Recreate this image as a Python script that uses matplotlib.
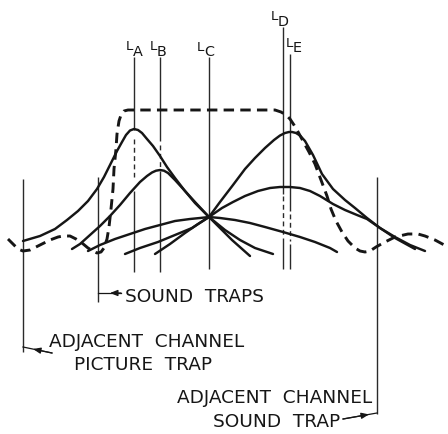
import matplotlib
matplotlib.use("Agg")
import matplotlib.pyplot as plt

# ---------------- data (pixel units: x right, y down) -------------
# resonance curve of coil L_A (tall, left)
curve_a_x = [23, 40, 55, 67, 78, 88, 97, 104, 110, 117, 122, 126, 130, 134, 138, 142, 147, 153, 160, 167, 175, 185, 195, 209, 220, 232, 250]
curve_a_y = [242, 237, 230, 221, 212, 202, 190, 178, 166, 152, 143, 136, 131.5, 130, 131, 134, 140, 147, 157, 168, 179, 192, 203, 218, 229, 241, 257]
# resonance curve of coil L_B
curve_b_x = [72, 80, 90, 100, 110, 120, 130, 140, 147, 152, 156, 160, 164, 168, 175, 185, 195, 209, 225, 240, 255, 273]
curve_b_y = [250, 245, 236, 227, 217, 206, 194, 183, 177, 173.5, 171.7, 171, 171.7, 174, 181, 192, 204, 218, 231, 241, 249, 255]
# broad curve of coil L_C (peak at the common crossing)
curve_c_x = [88, 100, 115, 130, 145, 160, 175, 190, 200, 209, 220, 235, 250, 265, 283, 300, 315, 330, 337]
curve_c_y = [252, 246, 240, 235, 230, 226, 222, 220, 219, 218, 219, 221, 224, 228, 233, 238, 243, 249, 253]
# resonance curve of coil L_D (tall, right)
curve_d_x = [155, 170, 185, 198, 209, 220, 233, 245, 255, 265, 274, 280, 285, 289, 292, 296, 300, 305, 313, 322, 333, 345, 355, 367, 380, 395, 415]
curve_d_y = [255, 245, 234, 225, 218, 203, 186, 170, 159, 149, 141, 136.5, 134, 133, 133, 134, 136.5, 142, 156, 175, 190, 201, 209, 219, 229, 239, 250]
# broad curve of coil L_E
curve_e_x = [125, 140, 158, 175, 192, 209, 222, 233, 245, 258, 270, 280, 290, 300, 310, 320, 333, 345, 357, 367, 380, 395, 410, 425]
curve_e_y = [255, 249, 243, 236, 229, 218, 209, 203, 197, 192, 189, 188, 188, 189, 192, 197, 205, 211, 216, 220, 229, 238, 246, 252]
# overall (dashed) response with the trap notches
overall_x = [8, 13, 18, 23, 30, 40, 50, 58, 63, 70, 76, 82, 88, 93, 97, 101, 104, 107, 109, 111, 113, 114, 116, 117, 119, 121, 124, 128,
             275, 281, 286, 290, 294, 297, 303, 309, 315, 321, 327, 331, 336, 342, 348, 355, 360, 365, 370, 376, 385, 395, 408, 418, 425, 435, 448]
overall_y = [240, 245, 250, 252, 251, 246, 241, 238, 237, 237, 240, 244, 249, 252, 254, 253, 249, 240, 228, 210, 190, 170, 150, 135, 122, 116, 112, 111,
             111, 113, 116, 120, 126, 131, 142, 153, 165, 181, 197, 210, 222, 233, 242, 249, 252, 253, 252, 248, 243, 238, 235, 235, 237, 241, 248]

# coil markers
coil_letters = ["A", "B", "C", "D", "E"]
coil_x = [134, 160, 209, 283, 290]

# trap markers
trap_x = [23, 98, 377]

# ---------------- drawing ----------------
plt.rcParams["lines.scale_dashes"] = False
INK = "#161616"
THIN = "#2a2a2a"

fig = plt.figure(figsize=(4.48, 4.35), dpi=100)
ax = fig.add_axes([0, 0, 1, 1])
ax.set_xlim(0, 448)
ax.set_ylim(435, 0)
ax.axis("off")

# vertical coil lines (solid parts and short dashed parts where they pass the curves)
coil_segments = {
    "A": [(58, 131, "-"), (140, 178, "--"), (192, 273, "-")],
    "B": [(58, 142, "-"), (146, 169, "--"), (172, 273, "-")],
    "C": [(58, 270, "-")],
    "D": [(28, 195, "-"), (197, 236, "--"), (239, 270, "-")],
    "E": [(55, 212, "-"), (215, 242, "--"), (245, 270, "-")],
}
for letter, x in zip(coil_letters, coil_x):
    for y0, y1, ls in coil_segments[letter]:
        kw = dict(color=THIN, lw=1.0, solid_capstyle="butt")
        if ls == "--":
            kw["dashes"] = (3.5, 2.5)
        ax.plot([x, x], [y0, y1], **kw)

# coil labels L with subscript letter
lab_L = {"A": (126, 50), "B": (150, 50), "C": (197, 51), "D": (271, 20), "E": (286, 47)}
for letter in coil_letters:
    lx, ly = lab_L[letter]
    ax.text(lx, ly, "L", fontsize=9.6, color=INK, ha="left", va="baseline",
            family="DejaVu Sans")
    ax.text(lx + 7, ly + 5.5, letter, fontsize=10.4, color=INK, ha="left", va="baseline",
            family="DejaVu Sans")

# trap lines
trap_spans = [(180, 353), (178, 303), (178, 415)]
for x, (y0, y1) in zip(trap_x, trap_spans):
    ax.plot([x, x], [y0, y1], color=THIN, lw=1.0, solid_capstyle="butt")

# resonance curves
for xs, ys in [(curve_a_x, curve_a_y), (curve_b_x, curve_b_y), (curve_c_x, curve_c_y),
               (curve_d_x, curve_d_y), (curve_e_x, curve_e_y)]:
    ax.plot(xs, ys, color=INK, lw=1.75, solid_capstyle="round", solid_joinstyle="round")

# overall response (dashed)
ax.plot(overall_x, overall_y, color=INK, lw=2.1, dashes=(7.5, 4.5),
        dash_capstyle="butt", dash_joinstyle="round")

# annotations
tfont = dict(fontsize=13.3, color=INK, family="DejaVu Sans", va="baseline", ha="left")
ax.text(125, 302, "SOUND  TRAPS", **tfont)
ax.text(49, 347, "ADJACENT  CHANNEL", **tfont)
ax.text(74, 370, "PICTURE  TRAP", **tfont)
ax.text(177, 403, "ADJACENT  CHANNEL", **tfont)
ax.text(213, 427, "SOUND  TRAP", **tfont)

arrow_kw = dict(arrowstyle="-|>,head_length=0.45,head_width=0.18", color=INK, lw=0.9,
                shrinkA=0, shrinkB=0)
# sound traps leader
ax.plot([trap_x[1], 121], [294, 294], color=INK, lw=0.9)
ax.annotate("", xy=(110, 294), xytext=(121, 294), arrowprops=arrow_kw)
# adjacent channel picture trap leader
ax.plot([trap_x[0], 52], [348, 354], color=INK, lw=0.9)
ax.annotate("", xy=(33, 350), xytext=(52, 354), arrowprops=arrow_kw)
# adjacent channel sound trap leader
ax.plot([343, trap_x[2]], [420, 414], color=INK, lw=0.9)
ax.annotate("", xy=(369, 415.4), xytext=(343, 420), arrowprops=arrow_kw)

fig.savefig("out.png", dpi=100, facecolor="white")
